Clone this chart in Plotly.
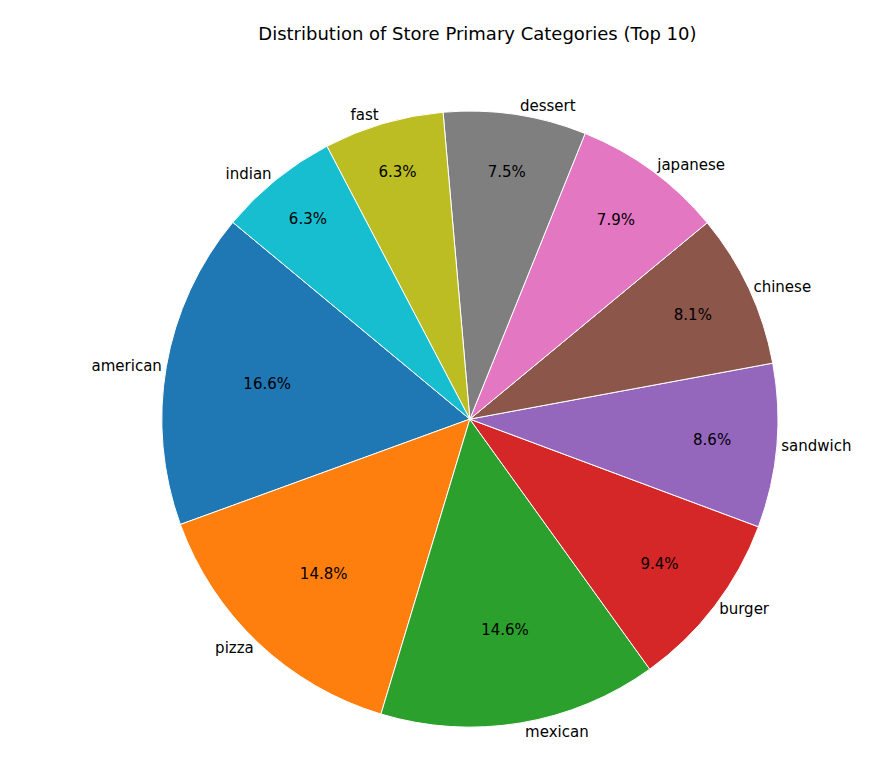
import plotly.graph_objects as go

categories = ["american", "pizza", "mexican", "burger", "sandwich",
              "chinese", "japanese", "dessert", "fast", "indian"]
shares = [16.6, 14.8, 14.6, 9.4, 8.6, 8.1, 7.9, 7.5, 6.3, 6.3]
colors = ["#1f77b4", "#ff7f0e", "#2ca02c", "#d62728", "#9467bd",
          "#8c564b", "#e377c2", "#7f7f7f", "#bcbd22", "#17becf"]

dom = dict(x=[0.173, 0.866], y=[0.062, 0.866])
font = dict(family="DejaVu Sans", size=15, color="black")

fig = go.Figure()
# slices with percentages inside
fig.add_trace(go.Pie(
    labels=categories, values=shares, sort=False, direction="counterclockwise",
    rotation=-110, marker=dict(colors=colors, line=dict(color="white", width=1)),
    texttemplate="%{value:.1f}%", textposition="inside", insidetextorientation="horizontal",
    insidetextfont=font, domain=dom, showlegend=False, hoverinfo="skip",
))
# transparent copy for outside category labels
fig.add_trace(go.Pie(
    labels=categories, values=shares, sort=False, direction="counterclockwise",
    rotation=-110, marker=dict(colors=["rgba(0,0,0,0)"] * len(categories)),
    texttemplate="%{label}", textposition="outside", outsidetextfont=font,
    domain=dom, showlegend=False, hoverinfo="skip",
))

fig.update_layout(
    width=889, height=767, paper_bgcolor="white",
    margin=dict(l=0, r=0, t=0, b=0),
    title=dict(text="Distribution of Store Primary Categories (Top 10)",
               x=0.528, y=0.975, xanchor="center",
               font=dict(family="DejaVu Sans", size=18, color="black")),
)
fig.write_html("out.html")
